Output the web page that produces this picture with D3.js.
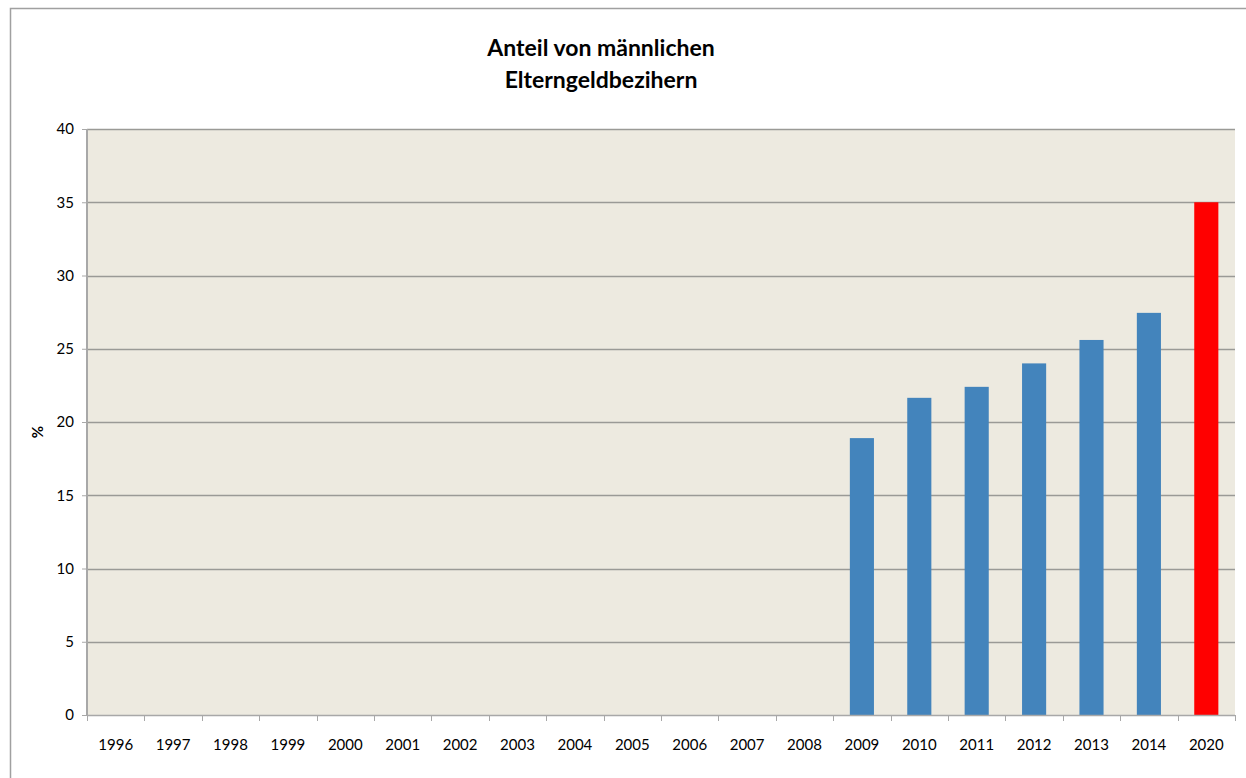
<!DOCTYPE html>
<html>
<head>
<meta charset="utf-8">
<script src="https://cdn.jsdelivr.net/npm/d3@7"></script>
<style>
  html, body { margin: 0; padding: 0; background: #fff; }
  svg { display: block; }
  text { font-family: Lato, "Open Sans", sans-serif; fill: #000; }
</style>
</head>
<body>
<svg id="chart" width="1246" height="778"></svg>
<script>
// Share of fathers among parental allowance recipients (%)
const years = ["1996","1997","1998","1999","2000","2001","2002","2003","2004","2005",
               "2006","2007","2008","2009","2010","2011","2012","2013","2014","2020"];
const shares = [null,null,null,null,null,null,null,null,null,null,
                null,null,null,18.9,21.65,22.4,24.0,25.6,27.45,35.0];
const barColors = ["#4384bc","#4384bc","#4384bc","#4384bc","#4384bc","#4384bc","#4384bc",
                   "#4384bc","#4384bc","#4384bc","#4384bc","#4384bc","#4384bc","#4384bc",
                   "#4384bc","#4384bc","#4384bc","#4384bc","#4384bc","#ff0000"];
const yTicks = [0,5,10,15,20,25,30,35,40];
const titleLines = ["Anteil von männlichen", "Elterngeldbezihern"];
const yLabel = "%";

const svg = d3.select("#chart");
const plot = { left: 87, right: 1235, top: 129, bottom: 715 };

// outer chart frame
svg.append("rect")
  .attr("x", 10.5).attr("y", 8.5)
  .attr("width", 1300).attr("height", 900)
  .attr("fill", "#fff").attr("stroke", "#a0a0a0").attr("stroke-width", 1.5);

const x = d3.scaleBand().domain(years).range([plot.left, plot.right]).paddingInner(0.58).paddingOuter(0.29);
const xTicksScale = d3.scaleLinear().domain([0, years.length]).range([plot.left, plot.right]);
const y = d3.scaleLinear().domain([0, 40]).range([plot.bottom, plot.top]);

// plot background
svg.append("rect")
  .attr("x", plot.left).attr("y", plot.top)
  .attr("width", plot.right - plot.left).attr("height", plot.bottom - plot.top)
  .attr("fill", "#edeae0");

// horizontal gridlines
svg.append("g").selectAll("line")
  .data(yTicks.filter(d => d > 0))
  .join("line")
  .attr("x1", plot.left).attr("x2", plot.right)
  .attr("y1", d => Math.round(y(d)) + 0.5).attr("y2", d => Math.round(y(d)) + 0.5)
  .attr("stroke", "#9a9a96").attr("stroke-width", 1.3);

// bars
svg.append("g").selectAll("rect")
  .data(years.map((yr, i) => ({ yr, v: shares[i], c: barColors[i] })).filter(d => d.v != null))
  .join("rect")
  .attr("x", d => x(d.yr))
  .attr("width", x.bandwidth())
  .attr("y", d => y(d.v))
  .attr("height", d => y(0) - y(d.v))
  .attr("fill", d => d.c);

// y axis
const yAxis = d3.axisLeft(y).tickValues(yTicks).tickSize(5).tickPadding(8);
const gy = svg.append("g").attr("transform", `translate(${plot.left},0)`).call(yAxis);
gy.select(".domain").attr("stroke", "#a8a8a8").attr("stroke-width", 2).attr("d", `M0,${plot.top}V${plot.bottom}`);
gy.selectAll(".tick line").attr("stroke", "#a8a8a8");
gy.selectAll(".tick text").style("font-size", "15px").style("font-family", "Lato, 'Open Sans', sans-serif").attr("fill", "#000");

// x axis baseline and ticks at category boundaries
const gx = svg.append("g");
gx.append("line")
  .attr("x1", plot.left).attr("x2", plot.right)
  .attr("y1", plot.bottom + 0.5).attr("y2", plot.bottom + 0.5)
  .attr("stroke", "#a8a8a8").attr("stroke-width", 1.3);
gx.selectAll("line.tk")
  .data(d3.range(years.length + 1))
  .join("line").attr("class", "tk")
  .attr("x1", d => Math.round(xTicksScale(d)) + 0.5).attr("x2", d => Math.round(xTicksScale(d)) + 0.5)
  .attr("y1", plot.bottom).attr("y2", plot.bottom + 6)
  .attr("stroke", "#a8a8a8");
gx.selectAll("text")
  .data(years)
  .join("text")
  .attr("x", d => x(d) + x.bandwidth() / 2)
  .attr("y", 750)
  .attr("text-anchor", "middle")
  .style("font-size", "15px")
  .text(d => d);

// y axis title
svg.append("text")
  .attr("transform", "translate(43,432) rotate(-90)")
  .attr("text-anchor", "middle")
  .style("font-size", "15px").style("font-weight", "bold")
  .text(yLabel);

// chart title
svg.append("g").selectAll("text")
  .data(titleLines)
  .join("text")
  .attr("x", 601)
  .attr("y", (d, i) => 56 + i * 32)
  .attr("text-anchor", "middle")
  .style("font-size", "23px").style("font-weight", "bold")
  .text(d => d);
</script>
</body>
</html>
